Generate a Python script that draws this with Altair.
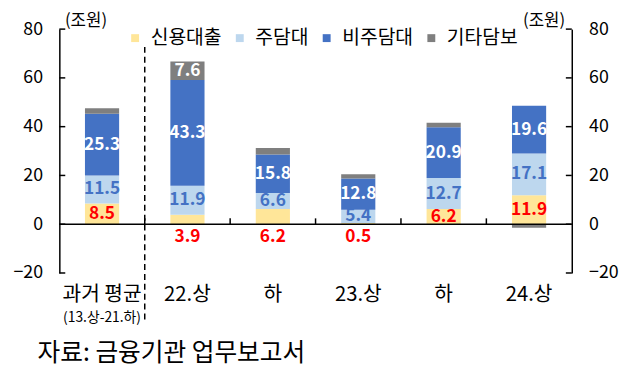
import altair as alt
import pandas as pd

# ---- data ----
keys = ["과거 평균", "22.상", "22.하", "23.상", "23.하", "24.상"]
series = ["신용대출", "주담대", "비주담대", "기타담보"]
colors = ["#FFE699", "#BDD7EE", "#4472C4", "#7F7F7F"]
credit = [8.5, 3.9, 6.2, 0.5, 6.2, 11.9]
mortgage = [11.5, 11.9, 6.6, 5.4, 12.7, 17.1]
nonmort = [25.3, 43.3, 15.8, 12.8, 20.9, 19.6]
other = [2.2, 7.6, 2.7, 1.8, 1.8, -1.5]
credit_inside = [True, False, False, False, True, True]
other_labeled = [False, True, False, False, False, False]
y_ticks = [-20, 0, 20, 40, 60, 80]
sub_label = "(13.상-21.하)"
unit = "(조원)"
source = "자료: 금융기관 업무보고서"

W, H = 519, 247
FONT = "Noto Sans CJK KR"

rows = []
for i, k in enumerate(keys):
    for j, (s, vals) in enumerate(zip(series, [credit, mortgage, nonmort, other])):
        rows.append({"key": k, "series": s, "order": j, "value": vals[i]})
df = pd.DataFrame(rows)

yscale = alt.Scale(domain=[-20, 80], nice=False, zero=False)
xscale = alt.Scale(domain=keys, paddingInner=0, paddingOuter=0)
xaxis = alt.Axis(title=None, domain=False, ticks=False, labelAngle=0, labelFont=FONT,
                 labelFontSize=20.5, labelColor="black", labelPadding=12,
                 labelExpr="indexof(datum.label, '.하') > 0 ? '하' : datum.label")


def X(field="key:N", **kw):
    return alt.X(field, sort=keys, scale=xscale, axis=xaxis, **kw)


def Y(field, axis=None):
    return alt.Y(field, scale=yscale, axis=axis)


left_axis = alt.Axis(values=y_ticks, title=None, grid=False, ticks=False, domain=True,
                     domainColor="black", domainWidth=1.5, labelFont=FONT, labelFontSize=18,
                     labelColor="black", labelPadding=17)
right_axis = alt.Axis(values=y_ticks, title=None, grid=False, ticks=False, domain=True,
                      domainColor="black", domainWidth=1.5, labelFont=FONT, labelFontSize=18,
                      labelColor="black", labelPadding=17, orient="right")

bars = alt.Chart(df).mark_bar(width=alt.RelativeBandSize(0.4)).encode(
    x=X(),
    y=alt.Y("value:Q", stack="zero", scale=yscale, axis=left_axis),
    color=alt.Color("series:N", scale=alt.Scale(domain=series, range=colors),
                    legend=alt.Legend(orient="none", legendX=67, legendY=-1, direction="horizontal",
                                      title=None, symbolType="square", symbolSize=64,
                                      symbolStrokeWidth=0, labelFontSize=19.5, labelFont=FONT,
                                      labelColor="black", columnPadding=8, labelOffset=6)),
    order=alt.Order("order:Q", sort="ascending"),
)

tick_df = pd.DataFrame({"t": y_ticks})
left_ticks = alt.Chart(tick_df).mark_rule(color="black", strokeWidth=1.5).encode(
    y=Y("t:Q"), x=alt.value(0), x2=alt.value(6))
right_ticks = alt.Chart(tick_df).mark_rule(color="black", strokeWidth=1.5).encode(
    y=Y("t:Q", right_axis), x=alt.value(W), x2=alt.value(W - 6))

zero_line = alt.Chart(pd.DataFrame({"z": [0]})).mark_rule(color="black", strokeWidth=1.5).encode(
    y=Y("z:Q"))

bound_df = pd.DataFrame({"key": keys[1:], "a": [0] * 5, "b": [2.4] * 5})
bound_ticks = alt.Chart(bound_df).mark_rule(color="black", strokeWidth=1.5).encode(
    x=X(bandPosition=0), y=Y("a:Q"), y2="b:Q")

dash = alt.Chart(pd.DataFrame({"key": [keys[1]]})).mark_rule(
    color="black", strokeWidth=1.5, strokeDash=[6, 4]).encode(
    x=X(bandPosition=0), y=alt.value(18), y2=alt.value(298))

# labels
cred_rows, mort_rows, non_rows, oth_rows = [], [], [], []
for i, k in enumerate(keys):
    c, m, n, o = credit[i], mortgage[i], nonmort[i], other[i]
    cred_rows.append({"key": k, "y": c / 2 if credit_inside[i] else -5.3, "t": f"{c:.1f}"})
    mort_rows.append({"key": k, "y": c + m / 2, "t": f"{m:.1f}"})
    non_rows.append({"key": k, "y": c + m + n / 2, "t": f"{n:.1f}"})
    if other_labeled[i]:
        oth_rows.append({"key": k, "y": c + m + n + o / 2, "t": f"{o:.1f}"})


def labels(rows_, color):
    return alt.Chart(pd.DataFrame(rows_)).mark_text(
        font=FONT, fontSize=17.5, fontWeight="bold", color=color, baseline="middle").encode(
        x=X(), y=Y("y:Q"), text="t:N")


lab_c = labels(cred_rows, "#FF0000")
lab_m = labels(mort_rows, "#4472C4")
lab_n = labels(non_rows, "white")
lab_o = labels(oth_rows, "white")

sub = alt.Chart(pd.DataFrame({"key": [keys[0]], "t": [sub_label]})).mark_text(
    font=FONT, fontSize=14, color="black", baseline="middle", y=H + 46).encode(x=X(), text="t:N")

txt_df = pd.DataFrame({"t": [unit]})
unit_l = alt.Chart(txt_df).mark_text(font=FONT, fontSize=17, color="black", baseline="middle").encode(
    x=alt.value(27), y=alt.value(-8), text="t:N")
unit_r = alt.Chart(txt_df).mark_text(font=FONT, fontSize=17, color="black", baseline="middle").encode(
    x=alt.value(491), y=alt.value(-8), text="t:N")
src = alt.Chart(pd.DataFrame({"t": [source]})).mark_text(
    font=FONT, fontSize=25, color="black", align="left", baseline="middle").encode(
    x=alt.value(-22), y=alt.value(328), text="t:N")

chart = alt.layer(
    bars, zero_line, left_ticks, right_ticks, bound_ticks, dash,
    lab_c, lab_m, lab_n, lab_o, sub, unit_l, unit_r, src
).resolve_axis(y="independent").properties(
    width=W, height=H,
    autosize=alt.AutoSizeParams(type="none"),
    padding={"left": 52, "top": 19, "right": 61, "bottom": 106},
).configure_view(stroke=None)

chart.save("out.html", embed_options={"renderer": "svg", "actions": False})
